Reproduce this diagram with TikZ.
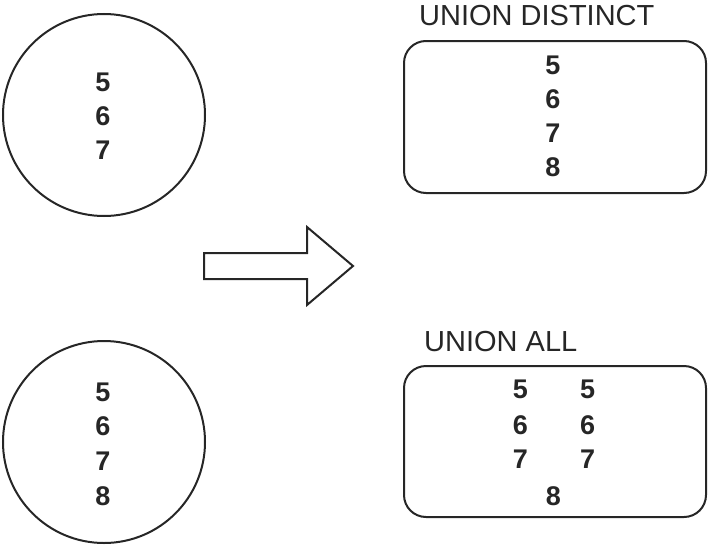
\documentclass[tikz,border=0pt]{standalone}
\usepackage{fontspec}
\setmainfont{Liberation Sans}
\begin{document}
\begin{tikzpicture}[x=1pt,y=-1pt,
  outline/.style={draw=black!85,line width=2pt},
  digit/.style={font=\fontsize{27}{30}\selectfont\bfseries,text=black!85,inner sep=0pt,anchor=center},
  title/.style={font=\fontsize{29}{32}\selectfont,text=black!85,inner sep=0pt,anchor=west}]
\useasboundingbox (0,0) rectangle (709,546);
% circles
\node[outline,circle,minimum size=202pt,inner sep=0pt] (c1) at (104,115) {};
\node[outline,circle,minimum size=202pt,inner sep=0pt] (c2) at (104,442) {};
\node[digit] (c1a) at (103,82.5) {5};
\node[digit] (c1b) at (103,116) {6};
\node[digit] (c1c) at (103,150) {7};
\node[digit] (c2a) at (103,392) {5};
\node[digit] (c2b) at (103,426) {6};
\node[digit] (c2c) at (103,461) {7};
\node[digit] (c2d) at (103,496) {8};
% arrow
\draw[outline,line join=miter] (204,253) -- (307,253) -- (307,227) -- (353,266) -- (307,305) -- (307,279) -- (204,279) -- cycle;
% boxes
\node[outline,rectangle,rounded corners=22pt,minimum width=302pt,minimum height=152pt,inner sep=0pt] (b1) at (555,117) {};
\node[outline,rectangle,rounded corners=22pt,minimum width=302pt,minimum height=151pt,inner sep=0pt] (b2) at (555,441.5) {};
\node[title] (t1) at (419,16) {UNION DISTINCT};
\node[title] (t2) at (424,342) {UNION ALL};
\node[digit] (b1a) at (553,65) {5};
\node[digit] (b1b) at (553,99.5) {6};
\node[digit] (b1c) at (553,133) {7};
\node[digit] (b1d) at (553,167.5) {8};
\node[digit] (b2a) at (520.5,389) {5};
\node[digit] (b2b) at (520.5,425) {6};
\node[digit] (b2c) at (520.5,459) {7};
\node[digit] (b2d) at (587.5,389) {5};
\node[digit] (b2e) at (587.5,425) {6};
\node[digit] (b2f) at (587.5,459) {7};
\node[digit] (b2g) at (553.5,496) {8};
\end{tikzpicture}
\end{document}
